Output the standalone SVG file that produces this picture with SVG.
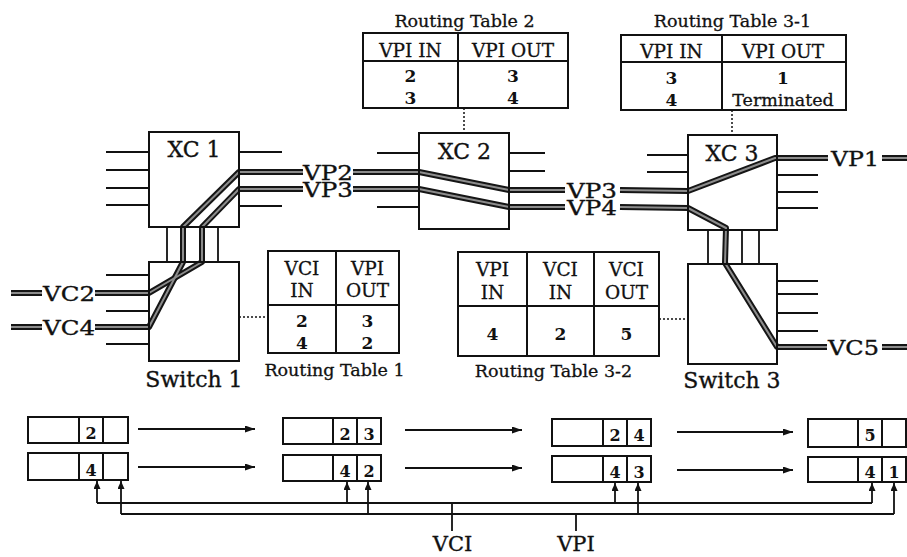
<svg xmlns="http://www.w3.org/2000/svg" xmlns:xlink="http://www.w3.org/1999/xlink" width="907" height="557" viewBox="0 0 907 557">
<style>
  .box{fill:none;stroke:#111;stroke-width:2}
  .tb{fill:none;stroke:#111;stroke-width:2}
  .thin{stroke:#111;stroke-width:1.8;fill:none}
  .dot{stroke:#111;stroke-width:1.5;stroke-dasharray:2 2;fill:none}
  .thk{stroke:#151515;stroke-width:6;fill:none;stroke-linejoin:round}
  .thkin{stroke:#8c8c8c;stroke-width:2;fill:none;stroke-linejoin:round}
  .lbl{font-family:"DejaVu Serif","Liberation Serif",serif;font-size:21px;fill:#111;stroke:#111;stroke-width:0.35}
  .nl{font-family:"DejaVu Serif","Liberation Serif",serif;font-size:22px;fill:#111;stroke:#111;stroke-width:0.35;text-anchor:middle}
  .th{font-family:"DejaVu Serif","Liberation Serif",serif;font-size:18.5px;fill:#111;stroke:#111;stroke-width:0.3;text-anchor:middle}
  .td{font-family:"DejaVu Serif","Liberation Serif",serif;font-size:17px;font-weight:bold;fill:#111;text-anchor:middle}
  .tt{font-family:"DejaVu Serif","Liberation Serif",serif;font-size:17.5px;fill:#111;stroke:#111;stroke-width:0.3;text-anchor:middle}
  .cd{font-family:"DejaVu Serif","Liberation Serif",serif;font-size:16px;font-weight:bold;fill:#111;text-anchor:middle}
  .arr{stroke:#111;stroke-width:1.8;fill:none}
</style>
<defs>
  <marker id="ah" viewBox="0 0 10 7" refX="10" refY="3.5" markerWidth="10" markerHeight="7" markerUnits="userSpaceOnUse" orient="auto">
    <path d="M0,0 L10,3.5 L0,7 z" fill="#111"/>
  </marker>
  <marker id="av" viewBox="0 0 8 7" refX="8" refY="3.5" markerWidth="8" markerHeight="7" markerUnits="userSpaceOnUse" orient="auto">
    <path d="M0,0 L8,3.5 L0,7 z" fill="#111"/>
  </marker>
  <path id="a1" d="M11,293 L42,293"/>
  <path id="a2" d="M95,293 L149,293 L202,262 L202,227 L239,189 L303,189"/>
  <path id="a3" d="M353,189 L419,189 L509,207 L565,207"/>
  <path id="a4" d="M620,207 L688,208 L726,228 L725,263 L777,347 L827,347"/>
  <path id="a5" d="M882,347 L907,347"/>
  <path id="b1" d="M11,327 L42,327"/>
  <path id="b2" d="M95,327 L149,327 L183,262 L183,227 L239,172 L303,172"/>
  <path id="b3" d="M353,172 L419,172 L509,190 L565,190"/>
  <path id="b4" d="M620,190 L688,191 L775,158 L828,158"/>
  <path id="b5" d="M882,158 L907,158"/>
</defs>

<g id="connectors">
  <path class="thin" d="M106,152H149M106,170H149M106,188H149M106,205H149"/>
  <path class="thin" d="M239,152H282M239,206H282"/>
  <path class="thin" d="M106,275H149M106,311H149M106,344H149"/>
  <path class="thin" d="M167,227V262M183,227V262M202,227V262M218,227V262"/>
  <path class="thin" d="M377,153H419M377,207H419M509,153H545M509,171H545"/>
  <path class="thin" d="M647,155H688M647,172H688M777,175H818M777,192H818M777,208H818"/>
  <path class="thin" d="M708,230V264M724,230V264M742,230V264M759,230V264"/>
  <path class="thin" d="M777,281H818M777,294H818M777,313H818M777,331H818"/>
  <path class="dot" d="M464,108V133M732,110V135M239,317H268M659,319H688"/>
  <use xlink:href="#a1" class="thk"/><use xlink:href="#a2" class="thk"/><use xlink:href="#a3" class="thk"/><use xlink:href="#a4" class="thk"/><use xlink:href="#a5" class="thk"/>
  <use xlink:href="#b1" class="thk"/><use xlink:href="#b2" class="thk"/><use xlink:href="#b3" class="thk"/><use xlink:href="#b4" class="thk"/><use xlink:href="#b5" class="thk"/>
  <use xlink:href="#a1" class="thkin"/><use xlink:href="#a2" class="thkin"/><use xlink:href="#a3" class="thkin"/><use xlink:href="#a4" class="thkin"/><use xlink:href="#a5" class="thkin"/>
  <use xlink:href="#b1" class="thkin"/><use xlink:href="#b2" class="thkin"/><use xlink:href="#b3" class="thkin"/><use xlink:href="#b4" class="thkin"/><use xlink:href="#b5" class="thkin"/>
  <path class="arr" d="M138,429H255" marker-end="url(#ah)"/>
  <path class="arr" d="M138,467H255" marker-end="url(#ah)"/>
  <path class="arr" d="M405,430H522" marker-end="url(#ah)"/>
  <path class="arr" d="M405,468H522" marker-end="url(#ah)"/>
  <path class="arr" d="M677,432H793" marker-end="url(#ah)"/>
  <path class="arr" d="M677,470H793" marker-end="url(#ah)"/>
  <path class="arr" d="M97,503H872M121,514H894M452,503V531M576,514V531"/>
  <path class="arr" d="M97,503V481" marker-end="url(#av)"/>
  <path class="arr" d="M121,514V481" marker-end="url(#av)"/>
  <path class="arr" d="M347,503V482" marker-end="url(#av)"/>
  <path class="arr" d="M368,514V482" marker-end="url(#av)"/>
  <path class="arr" d="M615,503V483" marker-end="url(#av)"/>
  <path class="arr" d="M638,514V483" marker-end="url(#av)"/>
  <path class="arr" d="M872,503V483" marker-end="url(#av)"/>
  <path class="arr" d="M894,514V483" marker-end="url(#av)"/>
</g>

<g id="path-labels">
  <text class="lbl" x="43" y="301" textLength="52" lengthAdjust="spacingAndGlyphs">VC2</text>
  <text class="lbl" x="43" y="335" textLength="52" lengthAdjust="spacingAndGlyphs">VC4</text>
  <text class="lbl" x="303" y="180" textLength="50" lengthAdjust="spacingAndGlyphs">VP2</text>
  <text class="lbl" x="303" y="197" textLength="50" lengthAdjust="spacingAndGlyphs">VP3</text>
  <text class="lbl" x="567" y="198" textLength="50" lengthAdjust="spacingAndGlyphs">VP3</text>
  <text class="lbl" x="567" y="215" textLength="50" lengthAdjust="spacingAndGlyphs">VP4</text>
  <text class="lbl" x="831" y="166" textLength="48" lengthAdjust="spacingAndGlyphs">VP1</text>
  <text class="lbl" x="828" y="355" textLength="51" lengthAdjust="spacingAndGlyphs">VC5</text>
  <text class="lbl" x="452.5" y="551" text-anchor="middle">VCI</text>
  <text class="lbl" x="576" y="551" text-anchor="middle">VPI</text>
</g>

<g id="xc1">
  <rect class="box" x="149" y="132" width="90" height="95"/>
  <text class="nl" x="194" y="157">XC 1</text>
</g>
<g id="xc2">
  <rect class="box" x="419" y="133" width="90" height="96"/>
  <text class="nl" x="464.5" y="159">XC 2</text>
</g>
<g id="xc3">
  <rect class="box" x="688" y="135" width="89" height="95"/>
  <text class="nl" x="732" y="161">XC 3</text>
</g>
<g id="switch1">
  <rect class="box" x="149" y="262" width="90" height="99"/>
  <text class="nl" x="194" y="387">Switch 1</text>
</g>
<g id="switch3">
  <rect class="box" x="688" y="264" width="89" height="100"/>
  <text class="nl" x="732" y="388">Switch 3</text>
</g>

<g id="table2">
  <text class="tt" x="464.5" y="27">Routing Table 2</text>
  <rect class="tb" x="363" y="33" width="205" height="75"/>
  <path class="tb" d="M458,33V108M363,61H568"/>
  <text class="th" x="410.5" y="57">VPI IN</text>
  <text class="th" x="513" y="57">VPI OUT</text>
  <text class="td" x="410.5" y="82">2</text>
  <text class="td" x="410.5" y="104">3</text>
  <text class="td" x="513" y="82">3</text>
  <text class="td" x="513" y="104">4</text>
</g>

<g id="table31">
  <text class="tt" x="732.5" y="27">Routing Table 3-1</text>
  <rect class="tb" x="621" y="35" width="225" height="75"/>
  <path class="tb" d="M722,35V110M621,62H846"/>
  <text class="th" x="671.5" y="58">VPI IN</text>
  <text class="th" x="783" y="58">VPI OUT</text>
  <text class="td" x="671.5" y="84">3</text>
  <text class="td" x="671.5" y="106">4</text>
  <text class="td" x="783" y="84">1</text>
  <text class="th" x="783" y="106" style="font-size:17.5px">Terminated</text>
</g>

<g id="table1">
  <rect class="tb" x="268" y="251" width="131" height="102"/>
  <path class="tb" d="M336,251V353M268,305H399"/>
  <text class="th" x="302" y="275">VCI</text>
  <text class="th" x="302" y="297">IN</text>
  <text class="th" x="367.5" y="275">VPI</text>
  <text class="th" x="367.5" y="297">OUT</text>
  <text class="td" x="302" y="327">2</text>
  <text class="td" x="302" y="349">4</text>
  <text class="td" x="367.5" y="327">3</text>
  <text class="td" x="367.5" y="349">2</text>
  <text class="tt" x="334.5" y="376">Routing Table 1</text>
</g>

<g id="table32">
  <rect class="tb" x="458" y="252" width="201" height="104"/>
  <path class="tb" d="M527,252V356M594,252V356M458,306H659"/>
  <text class="th" x="492.5" y="276">VPI</text>
  <text class="th" x="492.5" y="299">IN</text>
  <text class="th" x="560.5" y="276">VCI</text>
  <text class="th" x="560.5" y="299">IN</text>
  <text class="th" x="626.5" y="276">VCI</text>
  <text class="th" x="626.5" y="299">OUT</text>
  <text class="td" x="492.5" y="340">4</text>
  <text class="td" x="560.5" y="340">2</text>
  <text class="td" x="626.5" y="340">5</text>
  <text class="tt" x="553.5" y="377">Routing Table 3-2</text>
</g>

<g id="cells1">
  <rect class="tb" x="28" y="417" width="100" height="26"/>
  <path class="tb" d="M79,417V443M103,417V443"/>
  <text class="cd" x="91" y="439">2</text>
  <rect class="tb" x="28" y="453" width="100" height="27"/>
  <path class="tb" d="M79,453V480M103,453V480"/>
  <text class="cd" x="91" y="476">4</text>
</g>
<g id="cells2">
  <rect class="tb" x="283" y="418" width="98" height="26"/>
  <path class="tb" d="M333,418V444M357,418V444"/>
  <text class="cd" x="345" y="440">2</text>
  <text class="cd" x="369" y="440">3</text>
  <rect class="tb" x="283" y="455" width="98" height="26"/>
  <path class="tb" d="M333,455V481M357,455V481"/>
  <text class="cd" x="345" y="477">4</text>
  <text class="cd" x="369" y="477">2</text>
</g>
<g id="cells3">
  <rect class="tb" x="552" y="419" width="99" height="27"/>
  <path class="tb" d="M603,419V446M627,419V446"/>
  <text class="cd" x="615" y="441">2</text>
  <text class="cd" x="639" y="441">4</text>
  <rect class="tb" x="552" y="456" width="99" height="26"/>
  <path class="tb" d="M603,456V482M627,456V482"/>
  <text class="cd" x="615" y="478">4</text>
  <text class="cd" x="639" y="478">3</text>
</g>
<g id="cells4">
  <rect class="tb" x="808" y="419" width="98" height="28"/>
  <path class="tb" d="M858,419V447M882,419V447"/>
  <text class="cd" x="870" y="441">5</text>
  <rect class="tb" x="808" y="457" width="98" height="25"/>
  <path class="tb" d="M858,457V482M882,457V482"/>
  <text class="cd" x="870" y="478">4</text>
  <text class="cd" x="894" y="478">1</text>
</g>
</svg>
